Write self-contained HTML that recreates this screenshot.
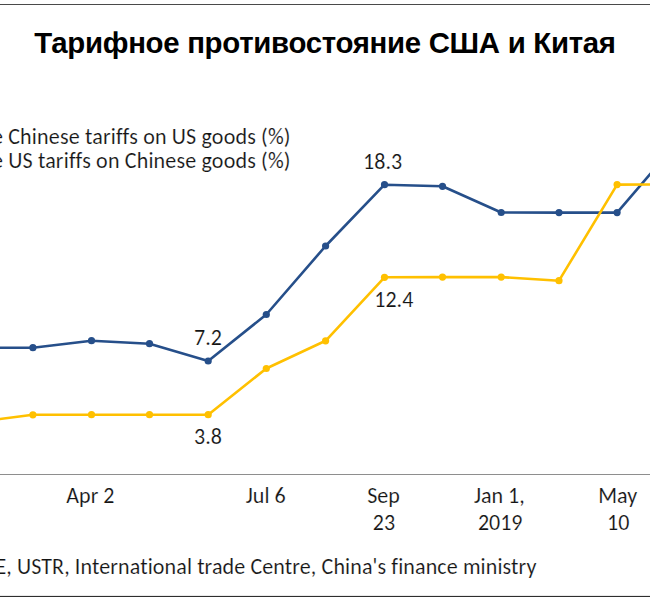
<!DOCTYPE html>
<html><head><meta charset="utf-8"><style>
html,body{margin:0;padding:0;background:#fff;width:650px;height:600px;overflow:hidden}
svg{position:absolute;left:0;top:0;display:block}
.c{font-family:Carlito,"Liberation Sans",sans-serif;fill:#141414;font-size:22px;stroke:#fff;stroke-width:0.15px;font-variant-ligatures:none}
.t{font-family:"Liberation Sans",Arial,sans-serif;font-weight:bold;fill:#000}
.nocal .c{font-family:"Liberation Sans",Arial,sans-serif;font-size:19.4px}
</style>
<script>
(function(){try{var c=document.createElement('canvas').getContext('2d');var t='mmmmmmiiiiiilllWWW';c.font='40px monospace';var a=c.measureText(t).width;c.font='40px Carlito, monospace';var b=c.measureText(t).width;if(Math.abs(a-b)<0.01)document.documentElement.className+=' nocal';}catch(e){}})();
</script>
</head><body>
<svg width="650" height="600" viewBox="0 0 650 600">
<rect x="0" y="4" width="650" height="1" fill="#4a4a4a"/>
<text class="t" x="325" y="53" font-size="29.4" letter-spacing="-0.3" text-anchor="middle">Тарифное противостояние США и Китая</text>
<text class="c" y="143.8" letter-spacing="0.17"><tspan x="-30.5">The</tspan><tspan x="8.2">Chinese tariffs on US goods (%)</tspan></text>
<text class="c" y="168.2" letter-spacing="0.17"><tspan x="-30.5">The</tspan><tspan x="8.2">US tariffs on Chinese goods (%)</tspan></text>
<rect x="0" y="474" width="650" height="1" fill="#8e8e8e"/>
<polyline points="-25.4,347.7 32.9,347.7 91.5,340.7 149.5,343.7 208.2,361.0 266.3,314.5 325.6,246.0 384.5,184.7 442.5,186.3 501.2,212.5 559.0,212.6 617.1,212.6 675.5,144.6" fill="none" stroke="#264f8a" stroke-width="2.6" stroke-linejoin="round"/>
<circle cx="-25.4" cy="347.7" r="3.6" fill="#264f8a"/><circle cx="32.9" cy="347.7" r="3.6" fill="#264f8a"/><circle cx="91.5" cy="340.7" r="3.6" fill="#264f8a"/><circle cx="149.5" cy="343.7" r="3.6" fill="#264f8a"/><circle cx="208.2" cy="361.0" r="3.6" fill="#264f8a"/><circle cx="266.3" cy="314.5" r="3.6" fill="#264f8a"/><circle cx="325.6" cy="246.0" r="3.6" fill="#264f8a"/><circle cx="384.5" cy="184.7" r="3.6" fill="#264f8a"/><circle cx="442.5" cy="186.3" r="3.6" fill="#264f8a"/><circle cx="501.2" cy="212.5" r="3.6" fill="#264f8a"/><circle cx="559.0" cy="212.6" r="3.6" fill="#264f8a"/><circle cx="617.1" cy="212.6" r="3.6" fill="#264f8a"/><circle cx="675.5" cy="144.6" r="3.6" fill="#264f8a"/>
<polyline points="-25.4,422.2 32.9,414.8 91.5,414.7 149.5,414.7 208.2,414.7 266.3,368.5 325.6,340.8 384.5,277.3 442.5,277.1 501.2,277.1 559.0,280.7 617.1,184.6 675.5,184.4" fill="none" stroke="#ffc000" stroke-width="2.6" stroke-linejoin="round"/>
<circle cx="-25.4" cy="422.2" r="3.6" fill="#ffc000"/><circle cx="32.9" cy="414.8" r="3.6" fill="#ffc000"/><circle cx="91.5" cy="414.7" r="3.6" fill="#ffc000"/><circle cx="149.5" cy="414.7" r="3.6" fill="#ffc000"/><circle cx="208.2" cy="414.7" r="3.6" fill="#ffc000"/><circle cx="266.3" cy="368.5" r="3.6" fill="#ffc000"/><circle cx="325.6" cy="340.8" r="3.6" fill="#ffc000"/><circle cx="384.5" cy="277.3" r="3.6" fill="#ffc000"/><circle cx="442.5" cy="277.1" r="3.6" fill="#ffc000"/><circle cx="501.2" cy="277.1" r="3.6" fill="#ffc000"/><circle cx="559.0" cy="280.7" r="3.6" fill="#ffc000"/><circle cx="617.1" cy="184.6" r="3.6" fill="#ffc000"/><circle cx="675.5" cy="184.4" r="3.6" fill="#ffc000"/>
<g class="c" text-anchor="middle">
<text x="208" y="345">7.2</text>
<text x="382.6" y="169">18.3</text>
<text x="208" y="443.5">3.8</text>
<text x="393.8" y="307.1">12.4</text>
<text x="90.4" y="502.8">Apr 2</text>
<text x="265.7" y="502.8">Jul 6</text>
<text x="383.5" y="502.5">Sep</text>
<text x="383.9" y="529.5">23</text>
<text x="499.4" y="502.5">Jan 1,</text>
<text x="500.2" y="529.5">2019</text>
<text x="617.7" y="502.5">May</text>
<text x="618.2" y="529.5">10</text>
</g>
<text class="c" x="-27.4" y="574.4" letter-spacing="0.115">PIIE, USTR, International trade Centre, China's finance ministry</text>
<rect x="0" y="595.9" width="650" height="1.1" fill="#2e2e2e"/>
</svg>
</body></html>
